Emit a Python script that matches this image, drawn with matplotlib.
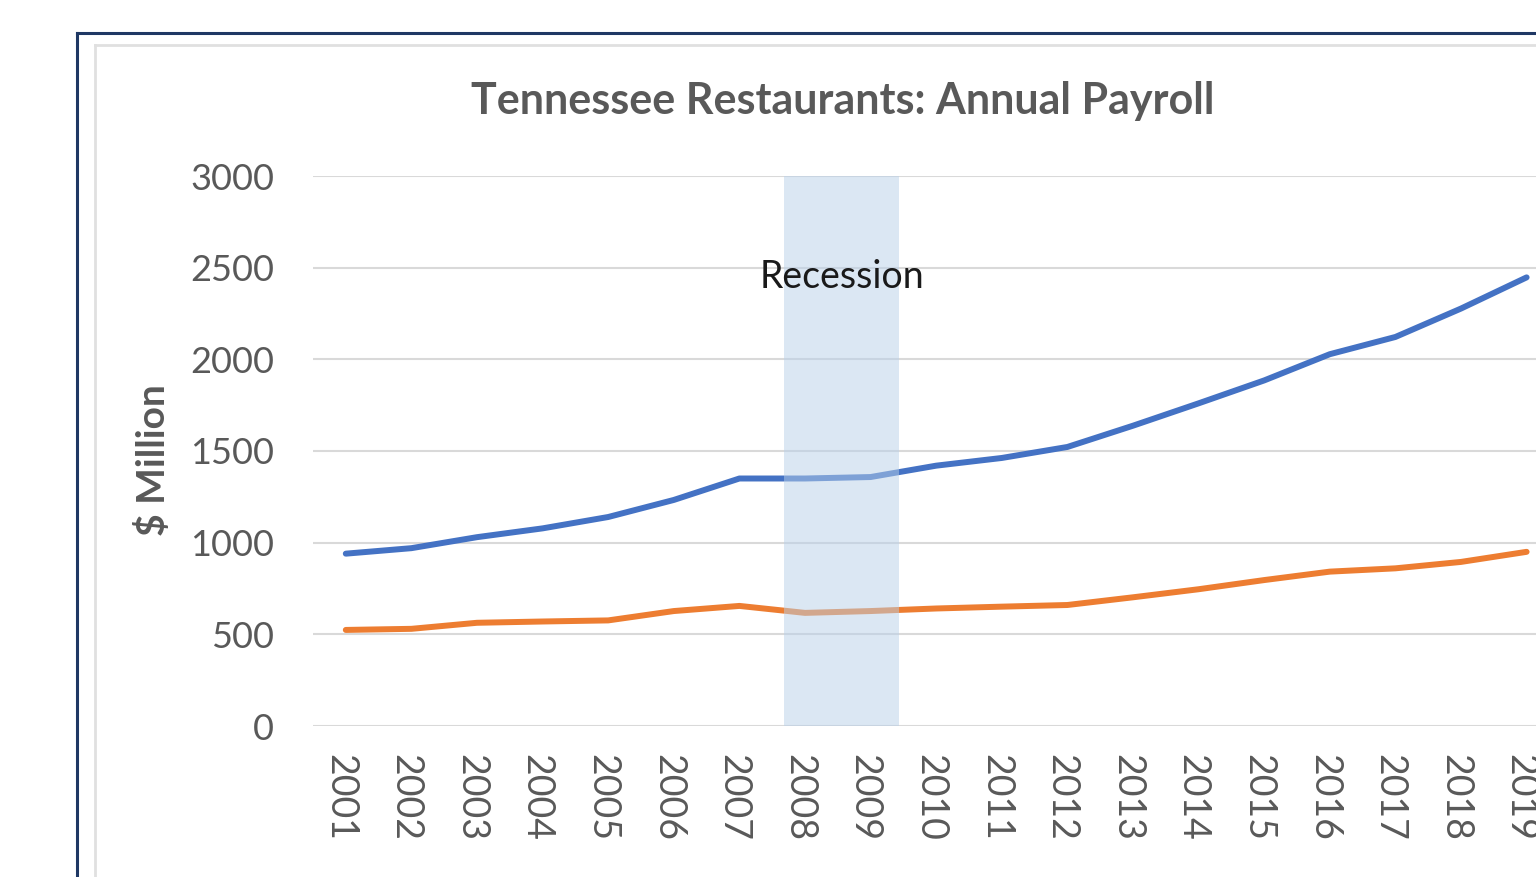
import matplotlib
matplotlib.use("Agg")
import matplotlib.pyplot as plt
from matplotlib.lines import Line2D
import matplotlib.transforms as mtransforms

plt.rcParams['font.family'] = ['Lato', 'DejaVu Sans']

years = list(range(2001, 2020))
blue_payroll = [940, 970, 1030, 1078, 1140, 1233, 1350, 1350, 1358, 1420, 1462,
                1522, 1638, 1760, 1885, 2028, 2122, 2277, 2447]
orange_payroll = [524, 530, 563, 570, 576, 627, 655, 617, 627, 641, 651,
                  660, 702, 746, 796, 842, 860, 895, 950]
recession_start, recession_end = 2007.68, 2009.44
yticks = [0, 500, 1000, 1500, 2000, 2500, 3000]

W, H = 1536, 877
fig = plt.figure(figsize=(W / 100, H / 100), dpi=100)
fig.patch.set_facecolor('white')

# frames
navy = '#1F3864'
fig.add_artist(Line2D([77 / W, 77 / W], [0, 1 - 33 / H], color=navy, lw=2.2,
                      transform=fig.transFigure))
fig.add_artist(Line2D([77 / W, 1], [1 - 33 / H, 1 - 33 / H], color=navy, lw=2.2,
                      transform=fig.transFigure))
fig.add_artist(Line2D([95 / W, 95 / W], [0, 1 - 45 / H], color='#E0E0E0', lw=2.0,
                      transform=fig.transFigure))
fig.add_artist(Line2D([95 / W, 1], [1 - 45 / H, 1 - 45 / H], color='#E0E0E0', lw=2.0,
                      transform=fig.transFigure))

ax = fig.add_axes([313 / W, 1 - 726 / H, 1 - 313 / W, (726 - 176) / H])
ax.set_facecolor('white')

ax.plot(years, blue_payroll, color='#4472C4', lw=4.3, solid_capstyle='round',
        solid_joinstyle='round', zorder=3)
ax.plot(years, orange_payroll, color='#ED7D31', lw=4.3, solid_capstyle='round',
        solid_joinstyle='round', zorder=3)
ax.axvspan(recession_start, recession_end, ymin=0, ymax=1, color='#B9D1E9',
           alpha=0.5, lw=0, zorder=4)

ax.text((recession_start + recession_end) / 2, 2450, 'Recession', ha='center',
        va='center', fontsize=27, color='#1a1a1a', zorder=5)

ax.set_ylim(0, 3000)
ax.set_xlim(2000.5, 2000.5 + (W - 313) / 65.6)
ax.set_yticks(yticks)
ax.set_xticks(years)
ax.set_xticklabels([str(y) for y in years], rotation=-90)
ax.yaxis.grid(True, color='#D9D9D9', lw=1.5)
ax.set_axisbelow(True)
for s in ax.spines.values():
    s.set_visible(False)
ax.tick_params(axis='both', length=0, labelcolor='#595959')
ax.tick_params(axis='y', pad=28, labelsize=26)
ax.tick_params(axis='x', pad=20, labelsize=27)
shift = mtransforms.ScaledTranslation(-6 / 100, 0, fig.dpi_scale_trans)
for lbl in ax.get_xticklabels():
    lbl.set_va('top')
    lbl.set_transform(lbl.get_transform() + shift)

fig.text(843 / W, 1 - 101 / H, 'Tennessee Restaurants: Annual Payroll',
         ha='center', va='center', fontsize=31, fontweight='bold', color='#595959')
fig.text(153 / W, 1 - 460 / H, '$ Million', ha='center', va='center',
         rotation=90, fontsize=28, fontweight='bold', color='#595959')

fig.savefig('out.png', dpi=100)
